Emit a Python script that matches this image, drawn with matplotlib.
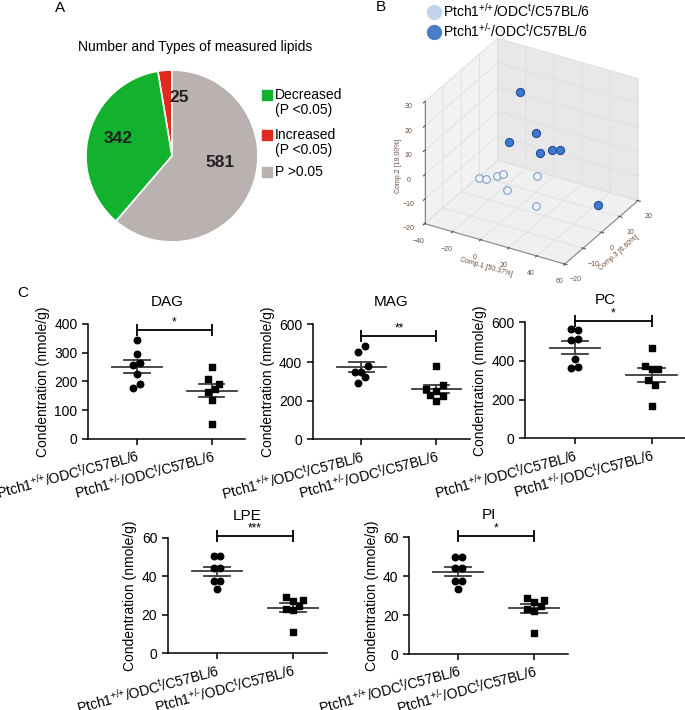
import numpy as np
import matplotlib
matplotlib.use('Agg')
import matplotlib.pyplot as plt
from matplotlib.patches import Rectangle
from matplotlib.lines import Line2D

plt.rcParams['font.family'] = ['Liberation Sans', 'DejaVu Sans']
plt.rcParams['mathtext.fontset'] = 'custom'
plt.rcParams['mathtext.rm'] = 'Liberation Sans'
plt.rcParams['mathtext.it'] = 'Liberation Sans:italic'

### ------ Data ------

# Panel A: number of lipids per class
pie_labels = ['Increased\n(P <0.05)', 'Decreased\n(P <0.05)', 'P >0.05']
pie_counts = [25, 342, 581]

# Panel B: PCA scores (Comp.1, Comp.3, Comp.2)
wt_comp1 = [-27.5, -22.5, -14.5, -10.5, -1.1, 1.1, 19.8]
wt_comp3 = [0, 0, 0, 0, -5, 10, -5]
wt_comp2 = [-12.2, -11.9, -9.1, -7.9, -9.5, -13.2, -12.7]
het_comp1 = [-4.7, 0.3, 7.1, 16.3, 18.2, 24.2, 51.0]
het_comp3 = [5, -5, 5, 0, 5, 5, 5]
het_comp2 = [23.7, 10.6, 8.6, 5.2, 3.8, 4.5, -13.4]

# Panel C: lipid concentrations (nmole/g)
groups = ['Ptch1$^{\\text{+/+}}$/ODC$^{\\text{t}}$/C57BL/6',
          'Ptch1$^{\\text{+/-}}$/ODC$^{\\text{t}}$/C57BL/6']
dag_wt = [345, 297, 259, 265, 227, 176, 190]
dag_het = [249, 209, 191, 174, 165, 134, 53]
mag_wt = [487, 454, 379, 351, 351, 323, 292]
mag_het = [383, 282, 263, 250, 230, 223, 198]
pc_wt = [567, 559, 507, 516, 409, 362, 367]
pc_het = [466, 376, 359, 359, 302, 274, 166]
lpe_wt = [50.3, 50.3, 44.3, 44.3, 37.5, 37.5, 33.4]
lpe_het = [29.2, 27.3, 27.9, 24.7, 23.2, 22.5, 11.1]
pi_wt = [50.1, 50.1, 44.1, 44.1, 37.6, 37.6, 33.3]
pi_het = [29.0, 26.9, 27.6, 24.5, 23.0, 22.3, 10.8]

# horizontal swarm slots for each point (multiples of a dot step)
swarm = {'DAG': ([0, 0, -1, 1, 0, -1, 1], [0, -1, 2, 1, -1, 0, 0]),
         'MAG': ([1, -1, 2, -2, 0, 1, -1], [0, 2, -3, 0, -2, 2, 0]),
         'PC': ([-1, 1, -1, 1, 0, -1, 1], [0, -2, 0, 2, -1, 1, 0]),
         'LPE': ([-1, 1, -1, 1, -1, 1, 0], [-2, 0, 3, 2, -2, 0, 0]),
         'PI': ([-1, 1, -1, 1, -1, 1, 0], [-2, 0, 3, 2, -2, 0, 0])}

W, H = 685, 710
fig = plt.figure(figsize=(W/100, H/100), dpi=100)


def px_rect(left, top, width, height):
    return [left/W, 1-(top+height)/H, width/W, height/H]


### ------ A: pie ------

fig.text(60/W, 1-8/H, 'A', fontsize=11, ha='center', va='center')
fig.text(195/W, 1-47/H, 'Number and Types of measured lipids',
         fontsize=10, ha='center', va='center')
axA = fig.add_axes(px_rect(86, 70, 172, 172))
pie_colors = ['#e0291f', '#12b22e', '#b9b2b0']
wedges, _ = axA.pie(pie_counts, colors=pie_colors, startangle=90,
                    counterclock=True,
                    wedgeprops=dict(edgecolor='white', linewidth=1.2))
axA.set_xlim(-1, 1)
axA.set_ylim(-1, 1)
for w, n, r, shift in zip(wedges, pie_counts, [0.69, 0.66, 0.56],
                          [-12, -2, 13]):
    ang = np.deg2rad((w.theta1+w.theta2)/2.+shift)
    axA.text(r*np.cos(ang), r*np.sin(ang), str(n), fontsize=12.5,
             fontweight='bold', ha='center', va='center', color='#222222')

# legend: square beside the first line of each label
leg_top = [95, 135, 172]
for i, y in zip([1, 0, 2], leg_top):
    fig.add_artist(Rectangle(((262)/W, 1-(y+5)/H), 10/W, 10/H,
                             color=pie_colors[i], transform=fig.transFigure))
    fig.text(275/W, 1-(y-7)/H, pie_labels[i], fontsize=10, ha='left',
             va='top', linespacing=1.05)


### ------ B: 3D PCA ------

fig.text(381/W, 1-7/H, 'B', fontsize=11, ha='center', va='center')
light_c, dark_c = '#c3d3ec', '#4a7dc5'
fig.legend(handles=[Line2D([], [], marker='o', ls='', ms=10, color=light_c),
                    Line2D([], [], marker='o', ls='', ms=10, color=dark_c)],
           labels=groups, loc='upper left', bbox_to_anchor=(428/W, 1-2/H),
           frameon=False, fontsize=10, handlelength=0.9,
           handletextpad=0.15, labelspacing=0.15, borderpad=0,
           borderaxespad=0)

with plt.rc_context({'grid.color': '#dcdcdc', 'grid.linewidth': 0.5}):
    axB = fig.add_axes(px_rect(370, 15, 315, 280), projection='3d')
axB.scatter(wt_comp1, wt_comp3, wt_comp2, s=30, c='#eef3fa',
            edgecolors='#7f9cc6', linewidths=0.8, depthshade=False)
axB.scatter(het_comp1, het_comp3, het_comp2, s=34, c='#3f7ad0',
            edgecolors='#1d4d92', linewidths=0.8, depthshade=False)
axB.set_xlim(-40, 60)
axB.set_ylim(-20, 20)
axB.set_zlim(-20, 30)
axB.set_xticks([-40, -20, 0, 20, 40, 60])
axB.set_yticks([-20, -10, 0, 10, 20])
axB.set_zticks([-20, -10, 0, 10, 20, 30])
axB.set_proj_type('ortho')
axB.set_box_aspect((1.15, 1.04, 1.0), zoom=0.9)
axB.view_init(elev=30, azim=-60)
axB.xaxis.set_pane_color((0.95, 0.95, 0.95, 1.0))
axB.yaxis.set_pane_color((0.91, 0.91, 0.91, 1.0))
axB.zaxis.set_pane_color((0.94, 0.94, 0.94, 1.0))
for a in [axB.xaxis, axB.yaxis, axB.zaxis]:
    a.line.set_color('#888888')
axB.zaxis.set_ticks_position('lower')
axB.zaxis.set_label_position('lower')
axB.tick_params(labelsize=5, colors='#6b4e3d', pad=0)
axB.set_xlabel('Comp.1 [50.37%]', fontsize=5, color='#6b4e3d', labelpad=-8)
axB.set_ylabel('Comp.3 [6.60%]', fontsize=5, color='#6b4e3d', labelpad=-8)
axB.set_zlabel('Comp.2 [19.00%]', fontsize=5, color='#6b4e3d', labelpad=-8)


### ------ C: dot plots ------

fig.text(23/W, 1-293/H, 'C', fontsize=11, ha='center', va='center')


def dot_panel(rect, name, wt, het, ymax, ystep, bar_y, stars):
    ax = fig.add_axes(rect)
    step = 0.045
    for i, (vals, mk, ms) in enumerate([(wt, 'o', 22), (het, 's', 20)]):
        xs = i + step*np.array(swarm[name][i])
        ax.scatter(xs, vals, marker=mk, s=ms, c='k', zorder=3, clip_on=False)
        m = np.mean(vals)
        se = np.std(vals, ddof=1)/np.sqrt(len(vals))
        ax.plot([i-0.33, i+0.33], [m, m], color='#3a3a3a', lw=1.3, zorder=2)
        ax.plot([i-0.17, i+0.17], [m+se, m+se], color='#3a3a3a', lw=1.3)
        ax.plot([i-0.17, i+0.17], [m-se, m-se], color='#3a3a3a', lw=1.3)
        ax.plot([i, i], [m-se, m+se], color='#3a3a3a', lw=1.3)
    ax.plot([0, 1], [bar_y, bar_y], color='k', lw=1.3, marker='|', ms=8,
            mew=1.3, clip_on=False)
    ax.text(0.5, bar_y+0.015*ymax, stars, ha='center', va='bottom',
            fontsize=8.5)
    ax.set_xlim(-0.65, 1.45)
    ax.set_ylim(0, ymax)
    ax.set_yticks(np.arange(0, ymax+1, ystep))
    ax.set_xticks([0, 1])
    ax.set_xticklabels(groups, rotation=15, ha='right',
                       rotation_mode='anchor', fontsize=10)
    ax.spines[['top', 'right']].set_visible(False)
    for s in ['left', 'bottom']:
        ax.spines[s].set_linewidth(1.1)
    ax.tick_params(labelsize=10, length=4, width=1.1)
    ax.tick_params(axis='x', pad=1.5)
    ax.set_ylabel('Condentration (nmole/g)', fontsize=10, labelpad=3)
    ax.set_title(name, fontsize=11, pad=13)
    return ax


dot_panel(px_rect(88, 324, 157.5, 115), 'DAG', dag_wt, dag_het,
          400, 100, 378, '*')
dot_panel(px_rect(312.7, 324, 157.5, 115.3), 'MAG', mag_wt, mag_het,
          600, 200, 539, '**')
dot_panel(px_rect(525, 322.3, 161, 116), 'PC', pc_wt, pc_het,
          600, 200, 607, '*')
dot_panel(px_rect(167.7, 537.7, 159, 115.6), 'LPE', lpe_wt, lpe_het,
          60, 20, 60.9, '***')
dot_panel(px_rect(409, 537.3, 159, 116.7), 'PI', pi_wt, pi_het,
          60, 20, 60.7, '*')

plt.savefig('out.png', dpi=100)
